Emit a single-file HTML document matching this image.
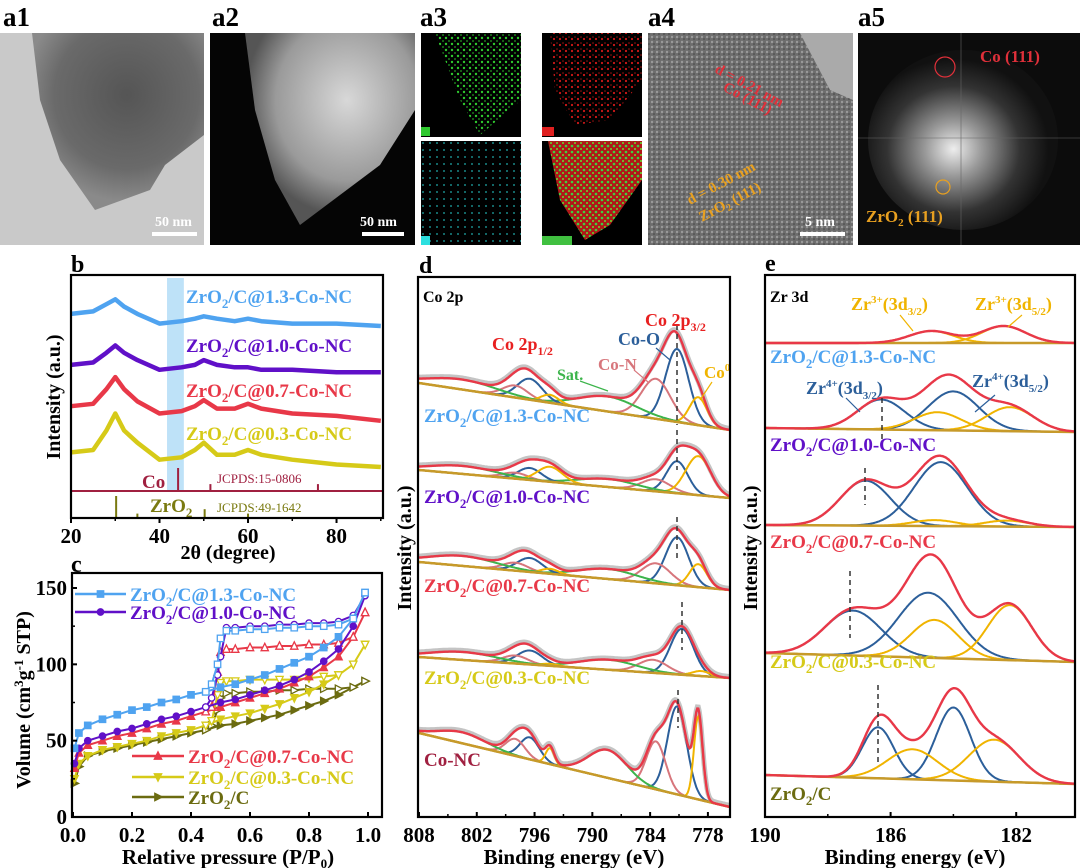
<!DOCTYPE html>
<html><head><meta charset="utf-8"><style>
html,body{margin:0;padding:0;background:#fff;}
svg{display:block;font-family:"Liberation Serif",serif;font-weight:bold;}
</style></head><body>
<svg id="fig" width="1080" height="868" viewBox="0 0 1080 868" xmlns="http://www.w3.org/2000/svg">
<defs>
<radialGradient id="g1" cx="0.55" cy="0.35" r="0.6"><stop offset="0" stop-color="#555"/><stop offset="0.7" stop-color="#6a6a6a"/><stop offset="1" stop-color="#8a8a8a"/></radialGradient>
<radialGradient id="g2" cx="0.6" cy="0.35" r="0.6"><stop offset="0" stop-color="#d8d8d8"/><stop offset="0.7" stop-color="#9a9a9a"/><stop offset="1" stop-color="#555"/></radialGradient>
<radialGradient id="g5" cx="0.45" cy="0.55" r="0.5"><stop offset="0" stop-color="#eee"/><stop offset="0.3" stop-color="#999"/><stop offset="0.7" stop-color="#333"/><stop offset="1" stop-color="#111"/></radialGradient>
<pattern id="pz" width="6" height="6" patternUnits="userSpaceOnUse"><rect width="6" height="6" fill="#000"/><circle cx="2" cy="2" r="1.2" fill="#2ec82e"/><circle cx="5" cy="5" r="0.9" fill="#22a022"/></pattern>
<pattern id="pc" width="6" height="6" patternUnits="userSpaceOnUse"><rect width="6" height="6" fill="#000"/><circle cx="2" cy="3" r="1.1" fill="#d01818"/><circle cx="5" cy="1" r="0.8" fill="#a01010"/></pattern>
<pattern id="pn" width="7" height="7" patternUnits="userSpaceOnUse"><rect width="7" height="7" fill="#000"/><circle cx="3" cy="3" r="0.9" fill="#20b0b0"/></pattern>
<pattern id="pm" width="6" height="6" patternUnits="userSpaceOnUse"><rect width="6" height="6" fill="#b01818"/><circle cx="2" cy="2" r="1.3" fill="#40d040"/><circle cx="5" cy="5" r="1" fill="#60e030"/></pattern>
<pattern id="p4" width="5" height="5" patternUnits="userSpaceOnUse"><rect width="5" height="5" fill="#6d6d6d"/><circle cx="2" cy="2" r="1.2" fill="#9a9a9a"/><circle cx="4" cy="4" r="0.8" fill="#444"/></pattern>
</defs>

<g>
<text x="3" y="26" font-size="27">a1</text>
<rect x="0" y="33" width="204" height="212" fill="#c9c9c9"/>
<path d="M32,33 L204,33 L204,135 L165,165 L150,190 L95,210 L60,160 L40,100 Z" fill="url(#g1)"/>
<rect x="152" y="232" width="45" height="4" fill="#fff"/><text x="155" y="226" font-size="14" fill="#fff">50 nm</text>

<text x="212" y="26" font-size="27">a2</text>
<rect x="210" y="33" width="205" height="212" fill="#050505"/>
<path d="M245,33 L415,33 L415,110 L380,165 L340,195 L300,225 L275,180 L255,110 Z" fill="url(#g2)"/>
<rect x="362" y="232" width="42" height="4" fill="#fff"/><text x="360" y="226" font-size="14" fill="#fff">50 nm</text>

<text x="420" y="26" font-size="27">a3</text>
<rect x="421" y="33" width="100" height="104" fill="#000"/>
<path d="M435,33 L521,33 L521,100 L480,135 L460,100 Z" fill="url(#pz)"/>
<rect x="421" y="127" width="9" height="9" fill="#2ec82e"/>
<rect x="421" y="141" width="100" height="104" fill="url(#pn)"/>
<rect x="421" y="236" width="9" height="9" fill="#2ce0e0"/>
<rect x="542" y="33" width="100" height="104" fill="#000"/>
<path d="M550,33 L642,33 L642,80 L610,120 L575,125 L555,90 Z" fill="url(#pc)"/>
<rect x="542" y="127" width="12" height="9" fill="#e02020"/>
<rect x="542" y="141" width="100" height="104" fill="#000"/>
<path d="M548,141 L642,141 L642,180 L610,225 L585,240 L560,200 Z" fill="url(#pm)"/>
<rect x="542" y="236" width="30" height="9" fill="#40c040"/>

<text x="648" y="26" font-size="27">a4</text>
<rect x="648" y="33" width="205" height="212" fill="url(#p4)"/>
<path d="M800,33 L853,33 L853,100 L830,90 Z" fill="#aaa"/>
<text x="714" y="72" font-size="15" fill="#e0303a" transform="rotate(28 714 72)">d = 0.21 nm</text>
<text x="722" y="90" font-size="15" fill="#e0303a" transform="rotate(28 722 90)">Co (111)</text>
<text x="690" y="205" font-size="15" fill="#e8a020" transform="rotate(-28 690 205)">d = 0.30 nm</text>
<text x="702" y="222" font-size="15" fill="#e8a020" transform="rotate(-28 702 222)">ZrO<tspan font-size="10" dy="3">2</tspan><tspan dy="-3"> (111)</tspan></text>
<rect x="800" y="232" width="45" height="4" fill="#fff"/><text x="805" y="226" font-size="14" fill="#fff">5 nm</text>

<text x="858" y="26" font-size="27">a5</text>
<rect x="858" y="33" width="222" height="212" fill="#0c0c0c"/>
<ellipse cx="963" cy="140" rx="95" ry="90" fill="url(#g5)"/>
<line x1="961" y1="33" x2="961" y2="245" stroke="#666" stroke-width="0.6"/><line x1="858" y1="138" x2="1080" y2="138" stroke="#666" stroke-width="0.6"/>
<circle cx="945" cy="67" r="10" fill="none" stroke="#e0303a" stroke-width="1.2"/>
<circle cx="943" cy="187" r="7" fill="none" stroke="#e8a020" stroke-width="1.2"/>
<text x="980" y="62" font-size="17" fill="#e0303a">Co (111)</text>
<text x="866" y="222" font-size="17" fill="#e8a020">ZrO<tspan font-size="11" dy="4">2</tspan><tspan dy="-4"> (111)</tspan></text>
</g>

<text x="71" y="272" font-size="24">b</text>
<text x="71" y="572" font-size="24">c</text>
<text x="419" y="273" font-size="24">d</text>
<text x="765" y="271" font-size="24">e</text>

<g id="pb"></g>
<g id="pc2"></g>
<g id="pd"></g>
<g id="pe"></g>
</svg>
<script>
// ---------- Panel b data ----------
const xrdTheta = [20,25,28,30,32,35,40,45,48,50,53,57,60,63,70,80,90];
const xrd13 = [84,85,88,90,87,84,80,81,82,83,82,81,82,81,80,80,79];
const xrd10 = [63,64,68,71,68,65,61,62,63,65,63,62,62,61,61,60,60];
const xrd07 = [46,47,53,58,53,48,43,44,46,48.5,45,45,47,45,43,42,40];
const xrd03 = [27,28,36,43,36,31,24,25,28,31,26,26,28,26,24,22,21];
const coRefPos = [44.2,51.5,75.8];
const coRefH = [10,3,3];
const zrRefPos = [30.2,35.0,50.2,60.0];
const zrRefH = [10,2,4,2];
const xrdTicks = [20,40,60,80];
// ---------- Panel c data ----------
const adsP = [0.005,0.02,0.05,0.1,0.15,0.2,0.25,0.3,0.35,0.4,0.45,0.5,0.55,0.6,0.65,0.7,0.75,0.8,0.85,0.9,0.95,0.99];
const ads13 = [45,55,60,64,67,70,72,75,77,80,82,85,87,90,93,97,101,105,111,118,130,147];
const ads10 = [35,45,50,53,56,58,61,64,66,69,72,75,77,80,83,86,90,95,102,110,125,145];
const ads07 = [32,42,47,50,53,55,58,61,63,66,69,72,75,78,81,84,88,92,98,105,118,134];
const ads03 = [25,35,40,44,46,48,50,53,55,57,60,64,66,68,71,74,78,82,87,93,100,113];
const ads00 = [22,33,40,43,45,47,49,51,53,55,57,60,61,63,65,67,70,73,76,80,85,89];
const desP = [0.99,0.95,0.9,0.85,0.8,0.75,0.7,0.65,0.6,0.55,0.52,0.5,0.49,0.47,0.45];
const des13 = [147,130,126,125,125,124,124,123,123,122,122,117,100,87,82];
const des10 = [145,132,128,127,127,126,126,125,125,124,124,105,93,78,72];
const des07 = [134,118,114,113,113,112,112,111,111,110,110,108,95,72,69];
const des03 = [113,100,93,92,91,90,90,90,90,89,89,88,80,63,60];
const des00 = [89,85,84,84,84,83,83,82,82,81,81,78,70,60,57];
const cYTicks = [0,50,100,150];
const cXTicks = [0,0.2,0.4,0.6,0.8,1.0];
// ---------- Panel d data ----------
const dComps = ['Co-O 2p3/2','Co-N 2p3/2','Co0 2p3/2','Sat 1','Co-O 2p1/2','Co-N 2p1/2','Co0 2p1/2','Sat 2'];
const dCenters = [781.2,783.4,779.0,788.4,796.5,798.0,794.4,803.5];
const dWidth13 = [1.2,1.5,0.9,3.0,1.3,1.3,0.9,3.5];
const dWidth10 = [1.1,1.5,1.3,3.0,1.2,1.3,1.3,3.5];
const dH13 = [73,40,28,15,21,12,8,10];
const dH10 = [32,12,39,8,12,6,15,8];
const dH07 = [48,20,23,10,14,8,5,10];
const dH03 = [46,13,5,10,14,8,2,8];
const dH00 = [88,48,83,28,22,17,16,11];
const dW00 = [1.0,1.0,0.45,2.0,1.0,1.0,0.45,2.5];
const dBase = [[383,430],[470,498],[562,590],[657,678],[733,807]];
const dTicks = [808,802,796,790,784,778];
// ---------- Panel e data ----------
const eCenters13 = [186.3,184.0,184.7,182.4];
const eH13 = [0,0,12,17];
const eH10 = [30,39,18,24];
const eC10 = [186.3,184.0,184.5,182.2];
const eH07 = [45,64,6,6];
const eC07 = [186.8,184.4,184.6,182.3];
const eH03 = [45,65,38,55];
const eC03 = [187.2,184.8,184.6,182.2];
const eH00 = [51,73,30,42];
const eC00 = [186.4,184.0,185.3,182.7];
const eW = [[0.75,0.8,0.7,0.7],[0.75,0.8,0.75,0.75],[0.8,0.85,0.7,0.7],[0.9,0.95,0.75,0.7],[0.5,0.55,0.8,0.8]];
const eBase = [[343,343],[428,432],[525,527],[653,662],[775,784]];
const eTicks = [190,186,182];

const NS='http://www.w3.org/2000/svg';
function mk(parent,tag,attrs){const e=document.createElementNS(NS,tag);for(const k in attrs)e.setAttribute(k,attrs[k]);parent.appendChild(e);return e;}
function txt(parent,x,y,s,size,fill,anchor,rot){const t=mk(parent,'text',{x:x,y:y,'font-size':size,fill:fill||'#000','text-anchor':anchor||'start'});if(rot)t.setAttribute('transform','rotate('+rot+' '+x+' '+y+')');t.innerHTML=s;return t;}
const C={lb:'#4fa3f0',pu:'#6010c8',rd:'#e83848',ye:'#d6ca18',ol:'#6b6b10',dr:'#a02040',bl:'#2c5f9a',pk:'#d7767c',gr:'#3cb44b',yo:'#f0b400',bg:'#c79a2a'};

// ======== Panel b ========
(function(){
const g=document.getElementById('pb');
const L=71,R=383,T=275,B=518;
const x=v=>L+(v-20)*(R-L)/70.5;
const y=v=>B-v*(B-T)/100;
mk(g,'rect',{x:x(41.7),y:278,width:x(45.5)-x(41.7),height:213,fill:'#a8d8f5',opacity:0.75,});
const series=[[xrd13,C.lb,'ZrO<tspan font-size="13" dy="5">2</tspan><tspan dy="-5">/C@1.3-Co-NC</tspan>',303],[xrd10,C.pu,'ZrO<tspan font-size="13" dy="5">2</tspan><tspan dy="-5">/C@1.0-Co-NC</tspan>',352],[xrd07,C.rd,'ZrO<tspan font-size="13" dy="5">2</tspan><tspan dy="-5">/C@0.7-Co-NC</tspan>',397],[xrd03,C.ye,'ZrO<tspan font-size="13" dy="5">2</tspan><tspan dy="-5">/C@0.3-Co-NC</tspan>',440]];
series.forEach((s,i)=>{
 let d='';xrdTheta.forEach((t,j)=>{d+=(j?'L':'M')+x(t).toFixed(1)+','+y(s[0][j]).toFixed(1);});
 const p=mk(g,'path',{d:d,fill:'none',stroke:s[1],'stroke-width':4.5,'stroke-linejoin':'round'});
 
 
 const t=txt(g,186,s[3],s[2],19,s[1]);
 
 
});
mk(g,'line',{x1:L,y1:491,x2:R,y2:491,stroke:C.dr,'stroke-width':2});
coRefPos.forEach((p,i)=>{const l=mk(g,'line',{x1:x(p),y1:491,x2:x(p),y2:491-coRefH[i]*2.3,stroke:C.dr,'stroke-width':2});
 
 });
zrRefPos.forEach((p,i)=>{const l=mk(g,'line',{x1:x(p),y1:B,x2:x(p),y2:B-zrRefH[i]*2.2,stroke:'#7a7a10','stroke-width':2});
 
 });
txt(g,142,488,'Co',19,C.dr);
txt(g,217,483,'JCPDS:15-0806',13,C.dr).setAttribute('font-weight','normal');
txt(g,150,512,'ZrO<tspan font-size="13" dy="5">2</tspan>',19,'#7a7a10');
txt(g,217,512,'JCPDS:49-1642',13,'#7a7a10').setAttribute('font-weight','normal');
mk(g,'rect',{x:L,y:T,width:R-L,height:B-T,fill:'none',stroke:'#000','stroke-width':2.2});
xrdTicks.forEach(v=>{mk(g,'line',{x1:x(v),y1:B,x2:x(v),y2:B+5,stroke:'#000','stroke-width':2});txt(g,x(v),543,String(v),21,'#000','middle');});
[30,50,70,90].forEach(v=>mk(g,'line',{x1:x(v),y1:B,x2:x(v),y2:B+3,stroke:'#000','stroke-width':1.5}));
txt(g,228,559,'2θ (degree)',20,'#000','middle');
txt(g,60,397,'Intensity (a.u.)',20,'#000','middle',-90);
})();

// ======== Panel c ========
(function(){
const g=document.getElementById('pc2');
const L=72,R=382,T=573,B=817;
const x=v=>73+v*295;
const y=v=>B-v*(B-588)/150;
function marker(g,t,cx,cy,col,fill){const r=3.2;let e;
 if(t==='s')e=mk(g,'rect',{x:cx-r,y:cy-r,width:2*r,height:2*r});
 else if(t==='o')e=mk(g,'circle',{cx:cx,cy:cy,r:r});
 else{let pts;if(t==='u')pts=[[0,-r-1],[-r-0.5,r],[r+0.5,r]];else if(t==='d')pts=[[0,r+1],[-r-0.5,-r],[r+0.5,-r]];else pts=[[r+1,0],[-r,-r-0.5],[-r,r+0.5]];
  e=mk(g,'polygon',{points:pts.map(p=>(cx+p[0]).toFixed(1)+','+(cy+p[1]).toFixed(1)).join(' ')});}
 e.setAttribute('fill',fill?col:'#fff');e.setAttribute('stroke',col);e.setAttribute('stroke-width',1.3);return e;}
const S=[[ads00,des00,C.ol,'r'],[ads03,des03,C.ye,'d'],[ads07,des07,C.rd,'u'],[ads10,des10,C.pu,'o'],[ads13,des13,C.lb,'s']];
S.forEach((s,i)=>{
 let d='';adsP.forEach((p,j)=>{d+=(j?'L':'M')+x(p).toFixed(1)+','+y(s[0][j]).toFixed(1);});
 desP.forEach((p,j)=>{d+='L'+x(p).toFixed(1)+','+y(s[1][j]).toFixed(1);});
 const pth=mk(g,'path',{d:d,fill:'none',stroke:s[2],'stroke-width':2});
 
 
 adsP.forEach((p,j)=>{const m=marker(g,s[3],x(p),y(s[0][j]),s[2],true);
  
  });
 desP.forEach((p,j)=>{const m=marker(g,s[3],x(p),y(s[1][j]),s[2],false);
  
  });
});
mk(g,'rect',{x:L,y:T,width:R-L,height:B-T,fill:'none',stroke:'#000','stroke-width':2.2});
cYTicks.forEach(v=>{mk(g,'line',{x1:L,y1:y(v),x2:L+5,y2:y(v),stroke:'#000','stroke-width':2});txt(g,67,y(v)+7,String(v),21,'#000','end');});
[25,75,125].forEach(v=>mk(g,'line',{x1:L,y1:y(v),x2:L+3,y2:y(v),stroke:'#000','stroke-width':1.5}));
cXTicks.forEach(v=>{mk(g,'line',{x1:x(v),y1:B,x2:x(v),y2:B-5,stroke:'#000','stroke-width':2});txt(g,x(v),842,v.toFixed(1),21,'#000','middle');});
txt(g,228,864,'Relative pressure (P/P<tspan font-size="13" dy="4">0</tspan><tspan dy="-4">)</tspan>',21,'#000','middle');
txt(g,30,700,'Volume (cm<tspan font-size="13" dy="-7">3</tspan><tspan dy="7">g</tspan><tspan font-size="13" dy="-7">-1</tspan><tspan dy="7"> STP)</tspan>',20,'#000','middle',-90);
const leg=[[C.lb,'s','1.3',75,126,594,130],[C.pu,'o','1.0',75,126,612,130],[C.rd,'u','0.7',132,184,756,188],[C.ye,'d','0.3',132,184,777,188]];
leg.forEach(l=>{mk(g,'line',{x1:l[3],y1:l[5],x2:l[4],y2:l[5],stroke:l[0],'stroke-width':2.5});marker(g,l[1],(l[3]+l[4])/2,l[5],l[0],true);
 const t=txt(g,l[6],l[5]+7,'ZrO<tspan font-size="13" dy="5">2</tspan><tspan dy="-5">/C@'+l[2]+'-Co-NC</tspan>',19,l[0]);
 
 });
mk(g,'line',{x1:132,y1:797,x2:184,y2:797,stroke:C.ol,'stroke-width':2.5});marker(g,'r',158,797,C.ol,true);
txt(g,188,804,'ZrO<tspan font-size="13" dy="5">2</tspan><tspan dy="-5">/C</tspan>',19,C.ol);
})();

// ======== generic XPS helpers ========
function gauss(e,c,h,w){return h*Math.exp(-(e-c)*(e-c)/(2*w*w));}
function drawSpectrum(g,X,lo,hi,base,cs,hs,ws,cols,step,raw){
 const xl=X(hi),xr=X(lo);
 const by=px=>base[0]+(px-xl)*(base[1]-base[0])/(xr-xl);
 let env='';
 for(let e=hi;e>=lo-1e-9;e-=step){const px=X(e);let s=0;cs.forEach((c,k)=>s+=gauss(e,c,hs[k],ws[k]));env+=(env?'L':'M')+px.toFixed(1)+','+(by(px)-s).toFixed(1);}
 if(raw){const gr=mk(g,'path',{d:env,fill:'none',stroke:'#c4c4c4','stroke-width':5,transform:'translate(0,-1.5)'});
 
 }
 cs.forEach((c,k)=>{if(hs[k]<=0)return;let d='';
  for(let e=hi;e>=lo-1e-9;e-=step){const px=X(e);d+=(d?'L':'M')+px.toFixed(1)+','+(by(px)-gauss(e,c,hs[k],ws[k])).toFixed(1);}
  const p=mk(g,'path',{d:d,fill:'none',stroke:cols[k],'stroke-width':2});
  
  });
 mk(g,'line',{x1:xl,y1:base[0],x2:xr,y2:base[1],stroke:C.bg,'stroke-width':2.5});
 const p=mk(g,'path',{d:env,fill:'none',stroke:C.rd,'stroke-width':2.4});
 
 
}

// ======== Panel d ========
(function(){
const g=document.getElementById('pd');
const L=418,R=730,T=277,B=817;
const X=e=>419+(808-e)*9.63;
const cols=[C.bl,C.pk,C.yo,C.gr,C.bl,C.pk,C.yo,C.gr];
const H=[dH13,dH10,dH07,dH03,dH00];
const W=[dWidth13,dWidth10,dWidth13,dWidth13,dW00];
const lo=808-(R-419)/9.63;
H.forEach((h,i)=>{const cs=dCenters.slice();if(i===3){cs[0]=780.7;cs[1]=783.7;cs[2]=778.7;}
 drawSpectrum(g,X,lo,808,dBase[i],cs,h,W[i],cols,0.1,true);});
const dash=[[677,325,425],[677,430,470],[677,517,560],[682,602,650],[678,690,728]];
dash.forEach(d=>mk(g,'line',{x1:d[0],y1:d[1],x2:d[0],y2:d[2],stroke:'#333','stroke-width':1.5,'stroke-dasharray':'5 4'}));
const lbl=[[C.lb,'ZrO<tspan font-size="13" dy="5">2</tspan><tspan dy="-5">/C@1.3-Co-NC</tspan>',422],[C.pu,'ZrO<tspan font-size="13" dy="5">2</tspan><tspan dy="-5">/C@1.0-Co-NC</tspan>',503],[C.rd,'ZrO<tspan font-size="13" dy="5">2</tspan><tspan dy="-5">/C@0.7-Co-NC</tspan>',592],[C.ye,'ZrO<tspan font-size="13" dy="5">2</tspan><tspan dy="-5">/C@0.3-Co-NC</tspan>',684],[C.dr,'Co-NC',766]];
lbl.forEach(l=>{const t=txt(g,424,l[2],l[1],19,l[0]);
 
 });
txt(g,423,302,'Co 2p',16,'#000');
txt(g,492,350,'Co 2p<tspan font-size="12" dy="5">1/2</tspan>',18,'#e82020');
txt(g,645,326,'Co 2p<tspan font-size="12" dy="5">3/2</tspan>',18,'#e82020');
txt(g,618,345,'Co-O',18,C.bl);
txt(g,598,370,'Co-N',17,C.pk);
txt(g,557,380,'Sat.',16,C.gr);
txt(g,704,378,'Co<tspan font-size="11" dy="-7">0</tspan>',17,C.yo);
mk(g,'line',{x1:580,y1:381,x2:608,y2:391,stroke:C.gr,'stroke-width':1.2});
mk(g,'line',{x1:634,y1:370,x2:648,y2:382,stroke:C.pk,'stroke-width':1.2});
mk(g,'line',{x1:656,y1:348,x2:670,y2:360,stroke:C.bl,'stroke-width':1.2});
mk(g,'line',{x1:712,y1:382,x2:700,y2:400,stroke:C.yo,'stroke-width':1.2});
mk(g,'rect',{x:L,y:T,width:R-L,height:B-T,fill:'none',stroke:'#000','stroke-width':2.2});
dTicks.forEach(v=>{mk(g,'line',{x1:X(v),y1:B,x2:X(v),y2:B-5,stroke:'#000','stroke-width':2});txt(g,X(v),842,String(v),21,'#000','middle');});
[805,799,793,787,781].forEach(v=>mk(g,'line',{x1:X(v),y1:B,x2:X(v),y2:B-3,stroke:'#000','stroke-width':1.5}));
txt(g,574,864,'Binding energy (eV)',21,'#000','middle');
txt(g,411,548,'Intensity (a.u.)',20,'#000','middle',-90);
})();

// ======== Panel e ========
(function(){
const g=document.getElementById('pe');
const L=765,R=1075,T=275,B=817;
const X=e=>765+(190-e)*31.4;
const lo=190-(R-765)/31.4;
const cols=[C.bl,C.bl,C.yo,C.yo];
const H=[eH13,eH10,eH07,eH03,eH00];const Cc=[eCenters13,eC10,eC07,eC03,eC00];
H.forEach((h,i)=>drawSpectrum(g,X,lo,190,eBase[i],Cc[i],h,eW[i],cols,0.03,false));
const dash=[[882,398,440],[865,468,505],[850,571,638],[878,685,762]];
dash.forEach(d=>mk(g,'line',{x1:d[0],y1:d[1],x2:d[0],y2:d[2],stroke:'#333','stroke-width':1.5,'stroke-dasharray':'5 4'}));
const lbl=[[C.lb,'1.3-Co-NC',363],[C.pu,'1.0-Co-NC',451],[C.rd,'0.7-Co-NC',548],[C.ye,'0.3-Co-NC',668]];
lbl.forEach(l=>{const t=txt(g,770,l[2],'ZrO<tspan font-size="13" dy="5">2</tspan><tspan dy="-5">/C@'+l[1]+'</tspan>',19,l[0]);
 
 });
txt(g,770,800,'ZrO<tspan font-size="13" dy="5">2</tspan><tspan dy="-5">/C</tspan>',19,C.ol);
txt(g,770,302,'Zr 3d',16,'#000');
txt(g,851,310,'Zr<tspan font-size="11" dy="-7">3+</tspan><tspan dy="7">(3d</tspan><tspan font-size="11" dy="5">3/2</tspan><tspan dy="-5">)</tspan>',18,C.yo);
txt(g,975,310,'Zr<tspan font-size="11" dy="-7">3+</tspan><tspan dy="7">(3d</tspan><tspan font-size="11" dy="5">5/2</tspan><tspan dy="-5">)</tspan>',18,C.yo);
txt(g,806,394,'Zr<tspan font-size="11" dy="-7">4+</tspan><tspan dy="7">(3d</tspan><tspan font-size="11" dy="5">3/2</tspan><tspan dy="-5">)</tspan>',18,C.bl);
txt(g,972,387,'Zr<tspan font-size="11" dy="-7">4+</tspan><tspan dy="7">(3d</tspan><tspan font-size="11" dy="5">5/2</tspan><tspan dy="-5">)</tspan>',18,C.bl);
mk(g,'line',{x1:900,y1:315,x2:913,y2:331,stroke:C.yo,'stroke-width':1.2});
mk(g,'line',{x1:1022,y1:315,x2:1008,y2:327,stroke:C.yo,'stroke-width':1.2});
mk(g,'line',{x1:846,y1:398,x2:860,y2:412,stroke:C.bl,'stroke-width':1.2});
mk(g,'line',{x1:995,y1:395,x2:975,y2:412,stroke:C.bl,'stroke-width':1.2});
mk(g,'rect',{x:L,y:T,width:R-L,height:B-T,fill:'none',stroke:'#000','stroke-width':2.2});
eTicks.forEach(v=>{mk(g,'line',{x1:X(v),y1:B,x2:X(v),y2:B-5,stroke:'#000','stroke-width':2});txt(g,X(v),842,String(v),21,'#000','middle');});
[188,184].forEach(v=>mk(g,'line',{x1:X(v),y1:B,x2:X(v),y2:B-3,stroke:'#000','stroke-width':1.5}));
txt(g,915,864,'Binding energy (eV)',21,'#000','middle');
txt(g,757,548,'Intensity (a.u.)',20,'#000','middle',-90);
})();
</script>
</body></html>
